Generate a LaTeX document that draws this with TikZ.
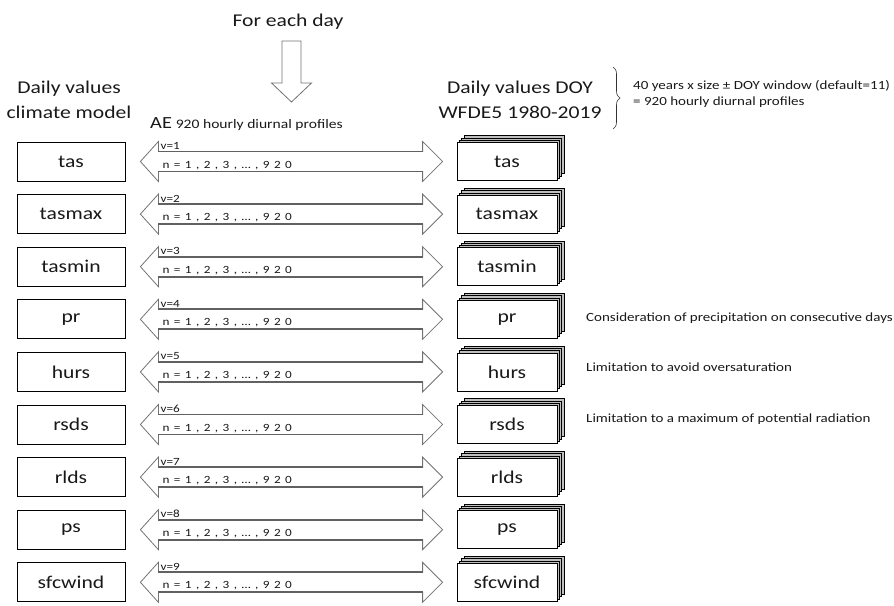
\documentclass[tikz,border=0pt]{standalone}
\usepackage{fontspec}
\setmainfont{Carlito}
\usetikzlibrary{calc,decorations.pathreplacing}
\newcommand\hstr[1]{\scalebox{1.2}[1]{#1}}
\newcommand\gp{\hspace{3.7pt}}
\begin{document}
\begin{tikzpicture}[x=1pt,y=-1pt,
  big/.style={font=\fontsize{18}{20}\selectfont, text=black!90, inner sep=0pt},
  small/.style={font=\fontsize{12.5}{14}\selectfont, text=black!90, inner sep=0pt},
  tiny/.style={font=\fontsize{11}{12}\selectfont, text=black!90, inner sep=0pt},
  varbox/.style={draw=black, line width=0.8pt, minimum width=108pt, minimum height=39pt, inner sep=0pt, fill=white, font=\fontsize{18}{20}\selectfont, text=black!90},
  stackbox/.style={draw=black, line width=0.8pt, minimum width=100pt, minimum height=38pt, inner sep=0pt, fill=white, font=\fontsize{18}{20}\selectfont, text=black!90},
  layer/.style={draw=black, line width=0.5pt, fill=gray!50},
  bigarrow/.style={draw=black!55, line width=0.8pt, fill=white, line join=miter},
  shaftline/.style={draw=black!62, line width=1.8pt},
]
\useasboundingbox (0,0) rectangle (894,605);
% top
\node[big] (title) at (288,22) {\hstr{For each day}};
\coordinate (dtop) at (291.5,41);
\draw[bigarrow] ($(dtop)+(-9.5,0)$) -- ($(dtop)+(9.5,0)$) -- ($(dtop)+(9.5,42)$) -- ($(dtop)+(20,42)$) -- ($(dtop)+(0,61)$) -- ($(dtop)+(-20,42)$) -- ($(dtop)+(-9.5,42)$) -- cycle;
% headers
\node[big, align=center] (hl) at (69,100) {\hstr{Daily values}\\[5pt]\hstr{climate model}};
\node[big, align=center] (hr) at (520,100) {\hstr{Daily values DOY}\\[5pt]\hstr{WFDE5 1980-2019}};
\node[anchor=base west, inner sep=0pt, text=black!90] (ae) at (150,128) {\fontsize{17}{19}\selectfont\hstr{AE} \fontsize{13}{15}\selectfont\hstr{920 hourly diurnal profiles}};
\coordinate (bt) at (613,67);
\coordinate (bb) at (613,129);
\draw[decorate, decoration={brace, amplitude=7pt}, line width=0.6pt, black!80] (bt) -- (bb);
\node[small, anchor=west] (b1) at (633,86) {\hstr{40 years x size ± DOY window (default=11)}};
\node[small, anchor=west] (b2) at (633,102) {\hstr{= 920 hourly diurnal profiles}};
% rows
\foreach \name [count=\i] in {tas,tasmax,tasmin,pr,hurs,rsds,rlds,ps,sfcwind} {
  \pgfmathsetmacro\c{161.5+52.6*(\i-1)}
  \node[varbox] (l\i) at (71,\c) {\hstr{\name}};
  \foreach \k in {3,2,1} \draw[layer] ({457+2.3*\k},{\c-19-2.3*\k}) rectangle ++(100,38);
  \node[stackbox] (r\i) at (507,\c) {\hstr{\name}};
  \coordinate (al\i) at ($(l\i.east)+(15,0)$);
  \coordinate (ar\i) at ($(r\i.west)+(-14,0)$);
  \draw[bigarrow] (al\i) -- ($(al\i)+(18,-20)$) -- ($(al\i)+(18,-10)$) -- ($(ar\i)+(-20,-10)$) -- ($(ar\i)+(-20,-20)$) -- (ar\i) -- ($(ar\i)+(-20,20)$) -- ($(ar\i)+(-20,10)$) -- ($(al\i)+(18,10)$) -- ($(al\i)+(18,20)$) -- cycle;
  \draw[shaftline] ($(al\i)+(18,-10)$) -- ($(ar\i)+(-20,-10)$);
  \draw[shaftline] ($(al\i)+(18,10)$) -- ($(ar\i)+(-20,10)$);
  \node[tiny, anchor=base west] (v\i) at ($(al\i)+(20,-12)$) {\hstr{v=\i}};
  \node[tiny, anchor=base west] (n\i) at ($(al\i)+(22,6.5)$) {\hstr{n\gp=\gp1\gp,\gp2\gp,\gp3\gp,\gp…\gp,\gp9\gp2\gp0}};
}
% side notes
\node[small, anchor=west] (s4) at (586,318) {\hstr{Consideration of precipitation on consecutive days}};
\node[small, anchor=west] (s5) at (586,367) {\hstr{Limitation to avoid oversaturation}};
\node[small, anchor=west] (s6) at (586,419) {\hstr{Limitation to a maximum of potential radiation}};
\end{tikzpicture}
\end{document}
